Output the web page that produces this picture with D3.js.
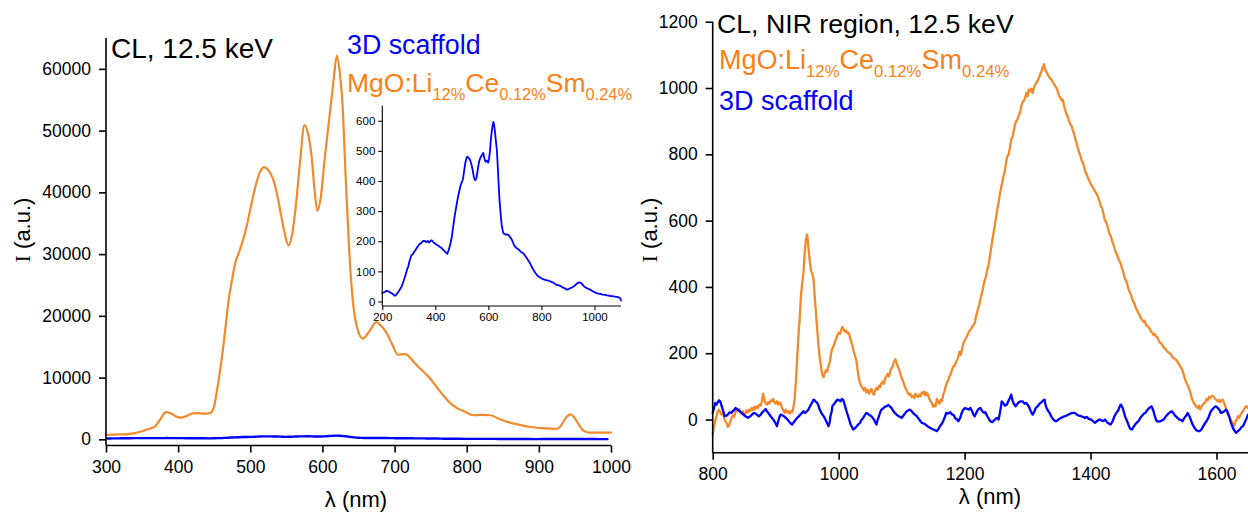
<!DOCTYPE html>
<html>
<head>
<meta charset="utf-8">
<script src="https://cdn.jsdelivr.net/npm/d3@7"></script>
<style>
  body { margin: 0; background: #fff; }
  svg { display: block; }
  text { font-family: "Liberation Sans", Arial, sans-serif; }
</style>
</head>
<body>
<svg id="chart" width="1248" height="515"></svg>
<script>
// ---- Visible-range CL spectra, 12.5 keV: [wavelength nm, intensity a.u.] ----
const mgoVisible = [
  [300,700],[310,750],[320,800],[330,850],[340,1000],[350,1300],[360,1700],[368,2100],[375,3200],[383,4400],
  [390,4200],[397,3700],[404,3500],[412,3800],[420,4200],[428,4250],[436,4150],[444,4250],[449,5000],[454,8000],
  [458,11000],[462,14500],[466,18500],[470,22600],[475,26000],[479,28500],[485,30500],[490,32300],[495,34500],
  [501,37800],[507,40900],[513,43200],[519,44100],[525,43600],[532,42000],[538,39200],[543,36100],[548,33200],
  [553,31400],[558,33200],[564,38800],[569,45000],[575,50900],[580,49500],[585,45800],[589,40500],[593,37000],
  [598,39500],[603,45300],[609,51500],[615,57700],[620,62100],[624,59500],[628,53900],[632,43000],[637,30800],
  [642,22600],[649,17700],[656,16300],[665,17500],[675,19000],[682,18300],[689,17200],[697,15300],[705,13700],
  [715,13800],[721,13300],[726,12600],[735,11500],[749,9900],[758,8500],[767,7200],[776,6000],[786,5100],
  [797,4500],[809,3900],[820,3950],[833,3900],[845,3300],[860,2700],[875,2300],[888,2000],[905,1800],[925,1700],
  [930,2100],[934,2850],[939,3700],[944,4050],[948,3700],[953,2850],[958,1900],[964,1250],[970,1100],[980,1100],
  [1000,1100]
];

const scaffoldVisible = [
  [200,28],[205,30],[210,32],[215,35],[220,34],[225,33],[230,30],[235,27],[240,24],[244,22],[248,19],[252,22],
  [255,26],[260,31],[265,38],[269,44],[273,50],[278,62],[282,72],[286,84],[290,95],[294,108],[298,116],[302,132],
  [305,140],[309,152],[312,155],[316,158],[320,165],[325,170],[330,178],[335,184],[340,190],[345,193],[349,196],
  [353,201],[358,200],[362,201],[365,197],[369,199],[372,201],[376,196],[380,199],[384,203],[388,202],[391,198],
  [395,195],[400,192],[405,188],[410,186],[415,182],[420,180],[425,176],[429,172],[432,170],[436,166],[440,162],
  [445,158],[450,170],[456,188],[462,215],[466,240],[470,265],[473,285],[476,300],[481,326],[485,345],[490,365],
  [495,385],[500,397],[504,405],[508,430],[513,460],[518,478],[521,481],[524,478],[528,474],[531,469],[535,458],
  [538,448],[542,430],[545,415],[548,405],[550,403],[553,406],[555,410],[559,432],[562,450],[566,468],[569,475],
  [572,481],[575,485],[578,490],[581,493],[583,482],[585,475],[588,466],[591,464],[594,468],[596,466],[599,461],
  [602,470],[606,500],[609,535],[612,560],[616,585],[619,596],[621,590],[624,570],[628,535],[632,502],[635,455],
  [638,400],[641,350],[644,315],[647,282],[650,255],[654,236],[657,226],[661,224],[665,222],[670,223],[676,221],
  [680,216],[685,210],[689,204],[693,195],[697,187],[701,182],[706,177],[712,174],[717,170],[722,165],[727,162],
  [732,160],[738,152],[744,145],[750,137],[757,127],[763,116],[770,105],[776,96],[783,88],[790,82],[798,78],
  [806,74],[814,72],[822,70],[830,68],[838,65],[845,62],[852,58],[858,55],[864,54],[870,52],[876,49],[882,46],
  [889,43],[896,39],[902,41],[908,44],[914,46],[921,50],[926,53],[932,58],[936,61],[940,63],[944,63],[948,62],
  [952,59],[956,55],[960,51],[964,48],[969,45],[974,43],[979,41],[984,39],[990,36],[995,33],[1002,30],[1008,28],
  [1015,26],[1022,25],[1030,23],[1040,22],[1048,20],[1056,19],[1064,18],[1072,17],[1078,16],[1085,15],[1091,14],
  [1097,11],[1100,3]
];

// ---- NIR-range CL spectra, 12.5 keV ----
const mgoNIR = [
  [800,-45],[802,-20],[804,-5],[806,10],[808,25],[810,30],[812,22],[814,15],[816,20],[818,5],[820,-5],[822,-10],
  [824,-22],[826,-18],[828,-5],[830,5],[832,12],[834,8],[836,22],[838,30],[840,25],[842,32],[844,20],[846,18],
  [848,25],[850,12],[852,18],[854,28],[856,22],[858,30],[860,26],[862,35],[864,28],[866,38],[868,32],[870,40],
  [872,35],[874,45],[876,42],[878,55],[880,78],[882,60],[884,50],[886,45],[888,52],[890,48],[892,58],[894,55],
  [896,62],[898,52],[900,48],[902,55],[904,45],[906,52],[908,48],[910,35],[912,28],[914,20],[916,30],[918,22],
  [920,25],[922,18],[924,25],[926,22],[928,35],[930,60],[932,110],[934,180],[936,250],[938,300],[940,370],
  [942,410],[944,440],[946,500],[948,545],[950,558],[952,520],[954,480],[956,450],[958,440],[960,425],[962,370],
  [964,320],[966,270],[968,225],[970,185],[972,160],[974,135],[976,128],[978,140],[980,150],[982,145],[984,162],
  [986,175],[988,200],[990,215],[992,222],[994,235],[996,242],[998,255],[1000,262],[1002,258],[1004,270],
  [1006,280],[1008,272],[1010,265],[1012,268],[1014,260],[1016,262],[1018,248],[1020,235],[1022,222],[1024,205],
  [1026,192],[1028,180],[1030,150],[1032,125],[1034,110],[1036,100],[1038,95],[1040,88],[1042,95],[1044,82],
  [1046,90],[1048,78],[1050,85],[1052,92],[1054,80],[1056,75],[1058,88],[1060,95],[1062,90],[1064,102],
  [1066,98],[1068,110],[1070,115],[1072,108],[1074,125],[1076,131],[1078,138],[1080,130],[1082,148],[1084,155],
  [1086,162],[1088,175],[1090,182],[1092,170],[1094,160],[1096,150],[1098,140],[1100,125],[1102,118],[1104,105],
  [1106,95],[1108,88],[1110,80],[1112,75],[1114,78],[1116,68],[1118,72],[1120,65],[1122,78],[1124,72],[1126,68],
  [1128,75],[1130,70],[1132,82],[1134,78],[1136,85],[1138,72],[1140,80],[1142,75],[1144,62],[1146,55],[1148,50],
  [1150,38],[1152,45],[1154,40],[1156,62],[1158,55],[1160,48],[1162,60],[1164,55],[1166,75],[1168,85],[1170,100],
  [1172,112],[1174,118],[1176,130],[1178,138],[1180,150],[1182,160],[1184,162],[1186,172],[1188,180],[1190,190],
  [1192,205],[1194,195],[1196,212],[1198,230],[1200,238],[1202,245],[1204,252],[1206,262],[1208,268],[1210,272],
  [1212,280],[1214,285],[1216,290],[1218,310],[1220,325],[1222,338],[1224,352],[1226,370],[1228,385],[1230,405],
  [1232,420],[1234,432],[1236,452],[1238,465],[1240,490],[1242,515],[1244,540],[1246,565],[1248,585],[1250,612],
  [1252,635],[1254,655],[1256,680],[1258,700],[1260,718],[1262,735],[1264,752],[1266,778],[1268,795],[1270,800],
  [1272,820],[1274,845],[1276,852],[1278,870],[1280,890],[1282,900],[1284,905],[1286,918],[1288,925],[1290,945],
  [1292,958],[1294,962],[1296,970],[1298,985],[1300,975],[1302,995],[1304,990],[1306,998],[1308,985],[1310,1000],
  [1312,1010],[1314,1016],[1316,1022],[1318,1030],[1320,1042],[1322,1050],[1324,1062],[1326,1072],[1328,1055],
  [1330,1048],[1332,1040],[1334,1035],[1336,1028],[1338,1025],[1340,1018],[1342,1012],[1344,1005],[1346,1000],
  [1348,990],[1350,975],[1352,972],[1354,962],[1356,965],[1358,945],[1360,932],[1362,920],[1364,912],[1366,900],
  [1368,890],[1370,885],[1372,872],[1374,860],[1376,845],[1378,832],[1380,818],[1382,805],[1384,795],[1386,780],
  [1388,775],[1390,760],[1392,745],[1394,740],[1396,728],[1398,720],[1400,712],[1402,705],[1404,700],[1406,692],
  [1408,685],[1410,680],[1412,670],[1414,660],[1416,645],[1418,638],[1420,625],[1422,605],[1424,598],[1426,590],
  [1428,575],[1430,560],[1432,555],[1434,540],[1436,530],[1438,515],[1440,505],[1442,498],[1444,485],[1446,478],
  [1448,470],[1450,455],[1452,445],[1454,428],[1456,420],[1458,410],[1460,395],[1462,385],[1464,378],[1466,365],
  [1468,355],[1470,348],[1472,335],[1474,330],[1476,320],[1478,316],[1480,305],[1482,300],[1484,295],[1486,298],
  [1488,285],[1490,282],[1492,278],[1494,275],[1496,265],[1498,262],[1500,255],[1502,258],[1504,250],[1506,248],
  [1508,240],[1510,232],[1512,230],[1514,225],[1516,218],[1518,215],[1520,210],[1522,205],[1524,202],[1526,200],
  [1528,195],[1530,188],[1532,186],[1534,182],[1536,180],[1538,175],[1540,168],[1542,162],[1544,155],[1546,148],
  [1548,135],[1550,122],[1552,112],[1554,105],[1556,95],[1558,85],[1560,70],[1562,58],[1564,50],[1566,45],
  [1568,38],[1570,35],[1572,42],[1574,30],[1576,38],[1578,45],[1580,48],[1582,52],[1584,62],[1586,58],[1588,68],
  [1590,65],[1592,70],[1594,72],[1596,68],[1598,62],[1600,58],[1602,55],[1604,60],[1606,52],[1608,58],[1610,60],
  [1612,50],[1614,40],[1616,30],[1618,15],[1620,10],[1622,0],[1624,-5],[1626,-10],[1628,-18],[1630,-8],[1632,0],
  [1634,10],[1636,5],[1638,15],[1640,20],[1642,25],[1644,32],[1646,38],[1648,40],[1650,35]
];

const scaffoldNIR = [
  [800,20],[802,35],[804,50],[806,45],[808,52],[810,58],[812,55],[814,42],[816,30],[818,18],[819,10],[822,12],
  [824,15],[827,22],[830,20],[832,26],[834,28],[836,35],[838,32],[841,28],[843,25],[846,20],[849,15],[852,10],
  [856,5],[858,8],[861,12],[864,18],[866,20],[868,18],[870,15],[873,10],[876,14],[878,20],[881,26],[884,32],
  [886,25],[889,18],[892,10],[894,5],[896,0],[898,-5],[900,-12],[902,-20],[904,-5],[906,8],[908,15],[911,12],
  [913,10],[916,5],[919,0],[922,-8],[924,-12],[926,-15],[928,-10],[930,-5],[932,0],[934,5],[937,10],[939,15],
  [942,20],[944,25],[946,20],[948,22],[950,26],[952,30],[954,38],[956,45],[958,52],[960,60],[962,58],[963,55],
  [966,50],[968,42],[970,30],[972,22],[974,15],[977,8],[979,0],[981,-8],[984,-20],[986,-5],[987,10],[989,25],
  [990,40],[992,45],[994,50],[996,55],[998,60],[1001,58],[1003,55],[1005,62],[1007,60],[1009,48],[1011,35],
  [1013,22],[1015,10],[1017,-2],[1019,-15],[1021,-22],[1023,-30],[1025,-28],[1028,-22],[1031,-15],[1034,-10],
  [1036,-2],[1039,5],[1041,12],[1044,20],[1046,18],[1048,15],[1050,12],[1052,10],[1054,5],[1056,0],[1058,-8],
  [1060,-15],[1062,0],[1064,10],[1066,22],[1068,30],[1071,34],[1073,38],[1076,40],[1079,44],[1081,40],[1084,35],
  [1086,28],[1089,20],[1092,15],[1095,10],[1098,8],[1100,5],[1102,10],[1104,15],[1106,20],[1108,25],[1111,28],
  [1113,30],[1116,25],[1118,20],[1121,15],[1124,10],[1126,5],[1128,0],[1130,-5],[1132,-10],[1135,-12],
  [1138,-15],[1141,-20],[1145,-25],[1148,-28],[1150,-30],[1153,-32],[1156,-35],[1158,-30],[1161,-20],
  [1164,-12],[1166,-5],[1168,5],[1171,20],[1174,18],[1177,22],[1180,15],[1182,15],[1185,5],[1188,0],[1190,-5],
  [1193,5],[1195,18],[1198,30],[1201,35],[1204,32],[1207,30],[1209,35],[1212,25],[1214,15],[1216,10],[1219,22],
  [1222,32],[1225,35],[1228,25],[1231,20],[1233,22],[1236,10],[1239,0],[1241,-5],[1244,-8],[1247,-2],[1251,5],
  [1254,0],[1257,30],[1259,55],[1261,50],[1264,42],[1267,45],[1270,58],[1272,65],[1274,75],[1276,58],[1278,48],
  [1281,40],[1284,48],[1286,52],[1289,55],[1292,55],[1295,48],[1298,50],[1300,45],[1303,35],[1305,25],[1308,15],
  [1311,25],[1313,35],[1316,40],[1319,48],[1322,52],[1325,58],[1327,60],[1329,40],[1332,28],[1335,20],[1338,8],
  [1341,0],[1344,-5],[1346,-5],[1349,0],[1353,5],[1356,8],[1359,10],[1362,12],[1365,15],[1368,18],[1371,20],
  [1375,20],[1378,15],[1381,12],[1385,10],[1388,8],[1391,5],[1394,8],[1397,2],[1401,0],[1404,-5],[1407,-10],
  [1410,-5],[1414,0],[1417,-2],[1420,-5],[1423,0],[1426,-8],[1429,-12],[1432,-15],[1435,-5],[1438,10],[1441,20],
  [1444,28],[1446,38],[1448,45],[1451,35],[1453,22],[1455,8],[1458,-5],[1461,-20],[1463,-28],[1466,-30],
  [1469,-20],[1472,-12],[1474,-8],[1476,-5],[1479,5],[1482,12],[1485,18],[1487,20],[1490,28],[1493,35],
  [1497,40],[1500,25],[1502,10],[1505,-5],[1508,-6],[1512,-4],[1516,0],[1519,8],[1522,15],[1526,22],[1529,25],
  [1532,18],[1535,10],[1538,5],[1541,0],[1544,-2],[1546,-5],[1549,5],[1552,12],[1554,20],[1557,10],[1560,-5],
  [1562,-15],[1565,-25],[1568,-32],[1571,-35],[1573,-35],[1576,-30],[1579,-20],[1582,-10],[1584,-5],[1587,5],
  [1589,15],[1591,25],[1594,32],[1597,38],[1599,40],[1602,35],[1605,28],[1607,20],[1610,22],[1613,26],[1615,30],
  [1617,25],[1620,10],[1623,-10],[1626,-25],[1628,-32],[1631,-40],[1634,-35],[1637,-30],[1640,-22],[1642,-20],
  [1645,-8],[1648,5],[1650,15]
];

// ---- Axis ticks ----
const visXTicks = [300, 400, 500, 600, 700, 800, 900, 1000];
const visYTicks = [0, 10000, 20000, 30000, 40000, 50000, 60000];
const insetXTicks = [200, 400, 600, 800, 1000];
const insetYTicks = [0, 100, 200, 300, 400, 500, 600];
const nirXTicks = [800, 1000, 1200, 1400, 1600];
const nirYTicks = [0, 200, 400, 600, 800, 1000, 1200];

const ORANGE_LINE = "#f28a2c";
const ORANGE_TEXT = "#fb7f16";
const BLUE = "#0000ff";

const svg = d3.select("#chart");

// Draws a left + bottom axis pair with outward major and minor ticks.
function drawAxes(g, x, y, opt) {
  const [x0, x1] = x.range();
  const [yb, yt] = y.range();
  const xMinor = d3.range(x.domain()[0], x.domain()[1] + 1e-9, opt.xMinorStep);
  const yMinor = d3.range(Math.ceil(y.domain()[0] / opt.yMinorStep) * opt.yMinorStep,
                          y.domain()[1] + 1e-9, opt.yMinorStep);

  const gx = g.append("g").attr("transform", `translate(0,${yb})`);
  gx.call(d3.axisBottom(x).tickValues(xMinor).tickSize(opt.minorLen).tickFormat("").tickSizeOuter(0));
  gx.call(d3.axisBottom(x).tickValues(opt.xTicks).tickSize(opt.majorLen).tickSizeOuter(0)
          .tickPadding(opt.xPad).tickFormat(d3.format("d")));

  const gy = g.append("g").attr("transform", `translate(${x0},0)`);
  gy.call(d3.axisLeft(y).tickValues(yMinor).tickSize(opt.minorLen).tickFormat("").tickSizeOuter(0));
  gy.call(d3.axisLeft(y).tickValues(opt.yTicks).tickSize(opt.majorLen).tickSizeOuter(0)
          .tickPadding(opt.yPad).tickFormat(d3.format("d")));

  [gx, gy].forEach(a => {
    a.selectAll("path.domain").attr("stroke", "#000").attr("stroke-width", opt.lineW);
    a.selectAll(".tick line").attr("stroke", "#000").attr("stroke-width", opt.lineW);
    a.selectAll(".tick text").attr("fill", "#000").attr("font-size", opt.fontSize)
      .attr("font-family", '"Liberation Sans", Arial, sans-serif');
  });
  // axis lines span the full plotting range
  gx.select("path.domain").attr("d", `M${x0},0H${x1}`);
  gy.select("path.domain").attr("d", `M0,${yb}V${yt}`);
}

function drawLine(g, x, y, data, color, width, curve) {
  const line = d3.line().x(d => x(d[0])).y(d => y(d[1])).curve(curve || d3.curveLinear);
  g.append("path").datum(data).attr("d", line)
    .attr("fill", "none").attr("stroke", color).attr("stroke-width", width)
    .attr("stroke-linejoin", "round").attr("stroke-linecap", "round");
}

// Sample name with subscripted dopant levels
function sampleLabel(g, xPos, yPos, size) {
  const t = g.append("text").attr("x", xPos).attr("y", yPos)
    .attr("fill", ORANGE_TEXT).attr("font-size", size);
  const parts = [["MgO:Li", false], ["12%", true], ["Ce", false], ["0.12%", true], ["Sm", false], ["0.24%", true]];
  let sub = false;
  parts.forEach(([s, isSub]) => {
    const ts = t.append("tspan").text(s);
    if (isSub && !sub) ts.attr("dy", 8);
    if (!isSub && sub) ts.attr("dy", -8);
    if (isSub) ts.attr("font-size", size * 0.62);
    sub = isSub;
  });
}

function yTitle(g, xPos, yPos) {
  const t = g.append("text").attr("transform", `translate(${xPos},${yPos}) rotate(-90)`)
    .attr("text-anchor", "middle").attr("font-size", 22).attr("fill", "#000");
  t.append("tspan").attr("font-family", '"Liberation Serif", "Times New Roman", serif').text("I");
  t.append("tspan").text(" (a.u.)");
}

function xTitle(g, xPos, yPos) {
  g.append("text").attr("x", xPos).attr("y", yPos).attr("text-anchor", "middle")
    .attr("font-size", 22).attr("fill", "#000").text("λ (nm)");
}

// ================= Visible-range panel =================
{
  const g = svg.append("g");
  const x = d3.scaleLinear().domain([300, 1000]).range([106, 611]);
  const y = d3.scaleLinear().domain([-1000, 65000]).range([445.5, 38]);

  drawLine(g, x, y, scaffoldVisible.filter(d => d[0] >= 300 && d[0] <= 1000), BLUE, 2.4, d3.curveMonotoneX);
  drawLine(g, x, y, mgoVisible, ORANGE_LINE, 2.2, d3.curveMonotoneX);

  drawAxes(g, x, y, {
    xTicks: visXTicks, yTicks: visYTicks, xMinorStep: 50, yMinorStep: 5000,
    majorLen: 7, minorLen: 4, xPad: 8, yPad: 8, lineW: 1.6, fontSize: 17.5
  });

  g.append("text").attr("x", 111).attr("y", 58).attr("font-size", 28).attr("fill", "#000").text("CL, 12.5 keV");
  g.append("text").attr("x", 347).attr("y", 53.5).attr("font-size", 26.8).attr("fill", BLUE).text("3D scaffold");
  sampleLabel(g, 347, 91.5, 26.5);

  yTitle(g, 30, 230);
  xTitle(g, 356, 507);

  // ---- inset: scaffold spectrum on its own scale ----
  const gi = svg.append("g");
  const xi = d3.scaleLinear().domain([200, 1100]).range([382.3, 621]);
  const yi = d3.scaleLinear().domain([-15, 650]).range([306, 105.7]);
  drawLine(gi, xi, yi, scaffoldVisible, BLUE, 1.8, d3.curveLinear);
  drawAxes(gi, xi, yi, {
    xTicks: insetXTicks, yTicks: insetYTicks, xMinorStep: 100, yMinorStep: 50,
    majorLen: 4, minorLen: 2.5, xPad: 3, yPad: 3, lineW: 1.1, fontSize: 11.5
  });
}

// ================= NIR panel =================
{
  const g = svg.append("g");
  const x = d3.scaleLinear().domain([800, 1650]).range([712.7, 1248]);
  const y = d3.scaleLinear().domain([-100, 1200]).range([452.7, 21.7]);

  drawLine(g, x, y, mgoNIR, ORANGE_LINE, 2.3);
  drawLine(g, x, y, scaffoldNIR, BLUE, 2.3);

  drawAxes(g, x, y, {
    xTicks: nirXTicks, yTicks: nirYTicks, xMinorStep: 100, yMinorStep: 100,
    majorLen: 7, minorLen: 4, xPad: 8, yPad: 8, lineW: 1.6, fontSize: 17.5
  });

  g.append("text").attr("x", 717).attr("y", 33).attr("font-size", 26.7).attr("fill", "#000").text("CL, NIR region, 12.5 keV");
  sampleLabel(g, 719, 69, 27);
  g.append("text").attr("x", 719).attr("y", 110).attr("font-size", 27).attr("fill", BLUE).text("3D scaffold");

  yTitle(g, 657, 230);
  xTitle(g, 990, 504);
}
</script>
</body>
</html>
